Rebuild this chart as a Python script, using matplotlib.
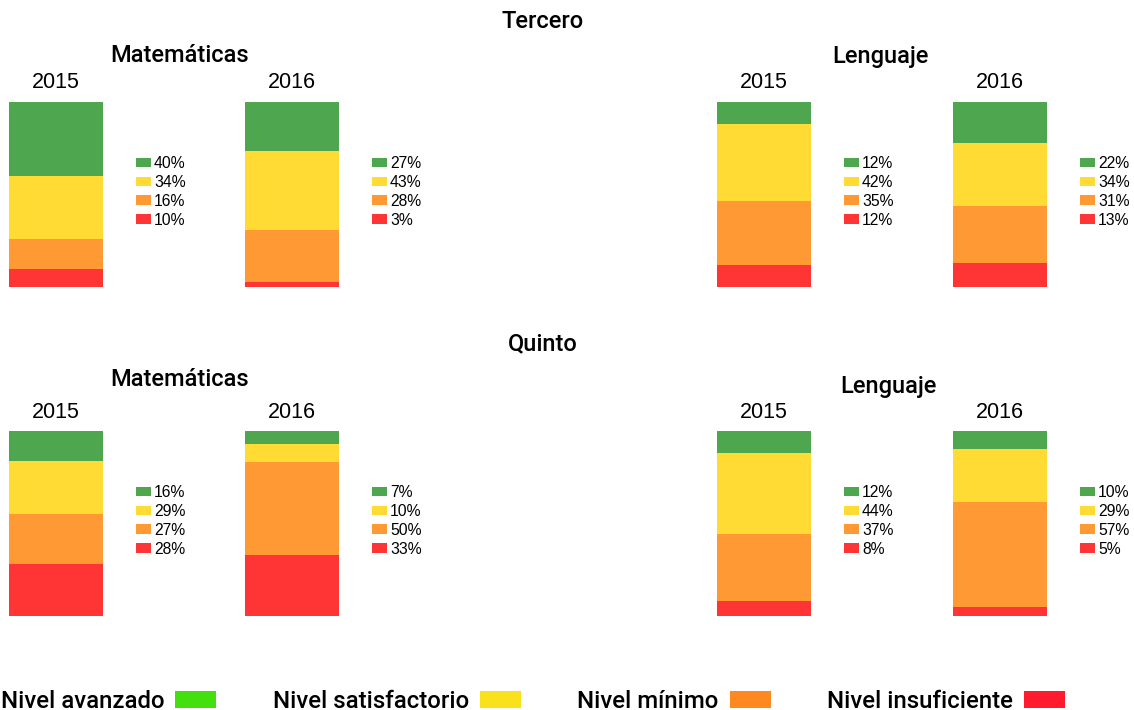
import matplotlib
matplotlib.use("Agg")
import matplotlib.pyplot as plt
from matplotlib.patches import Patch

# ---- data ----
levels = ["Nivel avanzado", "Nivel satisfactorio", "Nivel mínimo", "Nivel insuficiente"]
years = ["2015", "2016"]
grades = ["Tercero", "Quinto"]
subjects = ["Matemáticas", "Lenguaje"]

tercero_mat_2015 = [40, 34, 16, 10]
tercero_mat_2016 = [27, 43, 28, 3]
tercero_len_2015 = [12, 42, 35, 12]
tercero_len_2016 = [22, 34, 31, 13]
quinto_mat_2015 = [16, 29, 27, 28]
quinto_mat_2016 = [7, 10, 50, 33]
quinto_len_2015 = [12, 44, 37, 8]
quinto_len_2016 = [10, 29, 57, 5]

panels = {
    ("Tercero", "Matemáticas"): [tercero_mat_2015, tercero_mat_2016],
    ("Tercero", "Lenguaje"): [tercero_len_2015, tercero_len_2016],
    ("Quinto", "Matemáticas"): [quinto_mat_2015, quinto_mat_2016],
    ("Quinto", "Lenguaje"): [quinto_len_2015, quinto_len_2016],
}

bar_colors = ["#4EA74E", "#FFDB33", "#FF9933", "#FF3535"]
legend_colors = ["#43E00E", "#F9E11B", "#FF8820", "#FF1A2E"]

W, H = 1134, 710
fig = plt.figure(figsize=(W / 100, H / 100), dpi=100)

def fx(px):
    return px / W

def fy(py):
    return 1 - py / H

title_font = dict(family=["Roboto", "DejaVu Sans"], weight="medium", fontsize=17)
arial = ["Liberation Sans", "DejaVu Sans"]

# layout (pixels)
bar_lefts = {"Matemáticas": [9, 245], "Lenguaje": [717, 953]}
bar_w = 94
row_top = {"Tercero": 102, "Quinto": 431}
bar_h = 185
grade_title_y = {"Tercero": 22, "Quinto": 344}
subj_title = {("Tercero", "Matemáticas"): (180, 55), ("Tercero", "Lenguaje"): (880, 56),
              ("Quinto", "Matemáticas"): (180, 380), ("Quinto", "Lenguaje"): (888, 386)}

for g in grades:
    fig.text(fx(543), fy(grade_title_y[g]), g, ha="center", va="center", **title_font)
    for s in subjects:
        tx, ty = subj_title[(g, s)]
        fig.text(fx(tx), fy(ty), s, ha="center", va="center", **title_font)
        for yi, yr in enumerate(years):
            vals = panels[(g, s)][yi]
            left = bar_lefts[s][yi]
            top = row_top[g]
            ax = fig.add_axes([fx(left), fy(top + bar_h), bar_w / W, bar_h / H])
            bottom = 0
            # stack from bottom: insuficiente, mínimo, satisfactorio, avanzado
            for li in [3, 2, 1, 0]:
                ax.bar(0, vals[li], bottom=bottom, width=1.0, color=bar_colors[li],
                       linewidth=0)
                bottom += vals[li]
            ax.set_xlim(-0.5, 0.5)
            ax.set_ylim(0, sum(vals))
            ax.axis("off")
            fig.text(fx(left + bar_w / 2), fy(top - 19), yr, ha="center", va="center",
                     family=arial, fontsize=15.5)
            hs = [Patch(facecolor=bar_colors[i], edgecolor="none") for i in range(4)]
            labs = [f"{v}%" for v in vals]
            ax.legend(hs, labs, loc="upper left",
                      bbox_to_anchor=(fx(left + bar_w + 33), fy(top + 60 - 6)),
                      bbox_transform=fig.transFigure, frameon=False,
                      prop=dict(family=arial, size=11.3),
                      handlelength=0.95, handleheight=0.57, handletextpad=0.2,
                      labelspacing=0.25, borderpad=0, borderaxespad=0)

# bottom legend
lh = [Patch(facecolor=c, edgecolor="none") for c in legend_colors]
fig.legend(lh, levels, loc="center", bbox_to_anchor=(fx(533), fy(701)), ncol=4,
           markerfirst=False, frameon=False,
           prop=dict(family=["Roboto", "DejaVu Sans"], weight="medium", size=17.3),
           handlelength=1.71, handleheight=0.71, handletextpad=0.45,
           columnspacing=2.35, borderpad=0, borderaxespad=0)

fig.savefig("out.png", dpi=100)
